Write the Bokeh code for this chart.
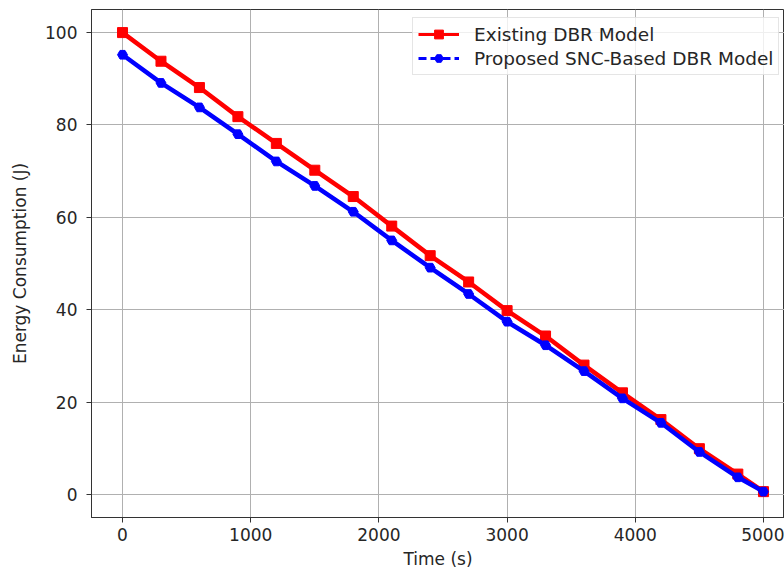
from bokeh.plotting import figure
from bokeh.models import Range1d, FixedTicker, Legend, LegendItem
from bokeh.embed import file_html
from bokeh.resources import INLINE

# Data
time_s = [0, 300, 600, 900, 1200, 1500, 1800, 2100, 2400, 2700, 3000,
          3300, 3600, 3900, 4200, 4500, 4800, 5000]
existing_dbr = [100.0, 93.8, 88.1, 81.8, 76.0, 70.2, 64.5, 58.1, 51.7, 46.0,
                39.8, 34.3, 28.0, 22.0, 16.2, 9.9, 4.4, 0.6]
proposed_snc = [95.2, 89.1, 83.8, 78.0, 72.1, 66.8, 61.2, 55.0, 49.1, 43.4,
                37.4, 32.3, 26.7, 20.8, 15.5, 9.2, 3.7, 0.6]
x_ticks = [0, 1000, 2000, 3000, 4000, 5000]
y_ticks = [0, 20, 40, 60, 80, 100]

FONT = "DejaVu Sans"
TXT = "#262626"

p = figure(width=784, height=571, output_backend="svg", toolbar_location=None,
           x_range=Range1d(-242, 5164), y_range=Range1d(-5, 105),
           min_border_left=91, min_border_right=0, min_border_top=9,
           min_border_bottom=54)

p.xaxis.axis_label = "Time (s)"
p.yaxis.axis_label = "Energy Consumption (J)"
p.xaxis.ticker = FixedTicker(ticks=x_ticks)
p.yaxis.ticker = FixedTicker(ticks=y_ticks)
for ax in (p.xaxis[0], p.yaxis[0]):
    ax.axis_label_text_font = FONT
    ax.axis_label_text_font_size = "17px"
    ax.axis_label_text_font_style = "normal"
    ax.axis_label_text_color = TXT
    ax.major_label_text_font = FONT
    ax.major_label_text_font_size = "17px"
    ax.major_label_text_color = TXT
    ax.axis_line_color = "#333333"
    ax.major_tick_line_color = "#333333"
    ax.major_tick_out = 5
    ax.major_tick_in = 0
    ax.minor_tick_out = 0
    ax.minor_tick_in = 0
p.xaxis.major_label_standoff = 5
p.xaxis.axis_label_standoff = 5
p.yaxis.major_label_standoff = 9
p.yaxis.axis_label_standoff = 12

p.xgrid.ticker = FixedTicker(ticks=x_ticks)
p.ygrid.ticker = FixedTicker(ticks=y_ticks)
p.grid.grid_line_color = "#b0b0b0"
p.grid.grid_line_width = 1
p.outline_line_color = "#333333"
p.outline_line_width = 1

# Existing DBR model (red, squares)
p.line(time_s, existing_dbr, line_color="#ff0000", line_width=4.5)
r_line = p.line(time_s, existing_dbr, line_color="#ff0000", line_width=3)
r_mark = p.scatter(time_s, existing_dbr, marker="square", size=10,
                   fill_color="#ff0000", line_color="#ff0000")

# Proposed SNC-based DBR model (blue, dashed, pentagon-like)
p.line(time_s, proposed_snc, line_color="#0000ff", line_width=4.5)
b_line = p.line(time_s, proposed_snc, line_color="#0000ff", line_width=3,
                line_dash="8 4")
b_mark = p.scatter(time_s, proposed_snc, marker="hex", size=10,
                   fill_color="#0000ff", line_color="#0000ff")

legend = Legend(items=[
    LegendItem(label="Existing DBR Model", renderers=[r_line, r_mark]),
    LegendItem(label="Proposed SNC-Based DBR Model", renderers=[b_line, b_mark]),
], location=(321, 442))
legend.label_text_font = FONT
legend.label_text_font_size = "18.5px"
legend.label_text_color = TXT
legend.glyph_width = 41
legend.glyph_height = 22
legend.label_height = 22
legend.label_standoff = 15
legend.spacing = 2
legend.padding = 5
legend.margin = 0
legend.border_line_color = "#cccccc"
legend.border_line_width = 1
legend.background_fill_alpha = 0.8
p.add_layout(legend)

open("out.html", "w").write(file_html(p, INLINE))
